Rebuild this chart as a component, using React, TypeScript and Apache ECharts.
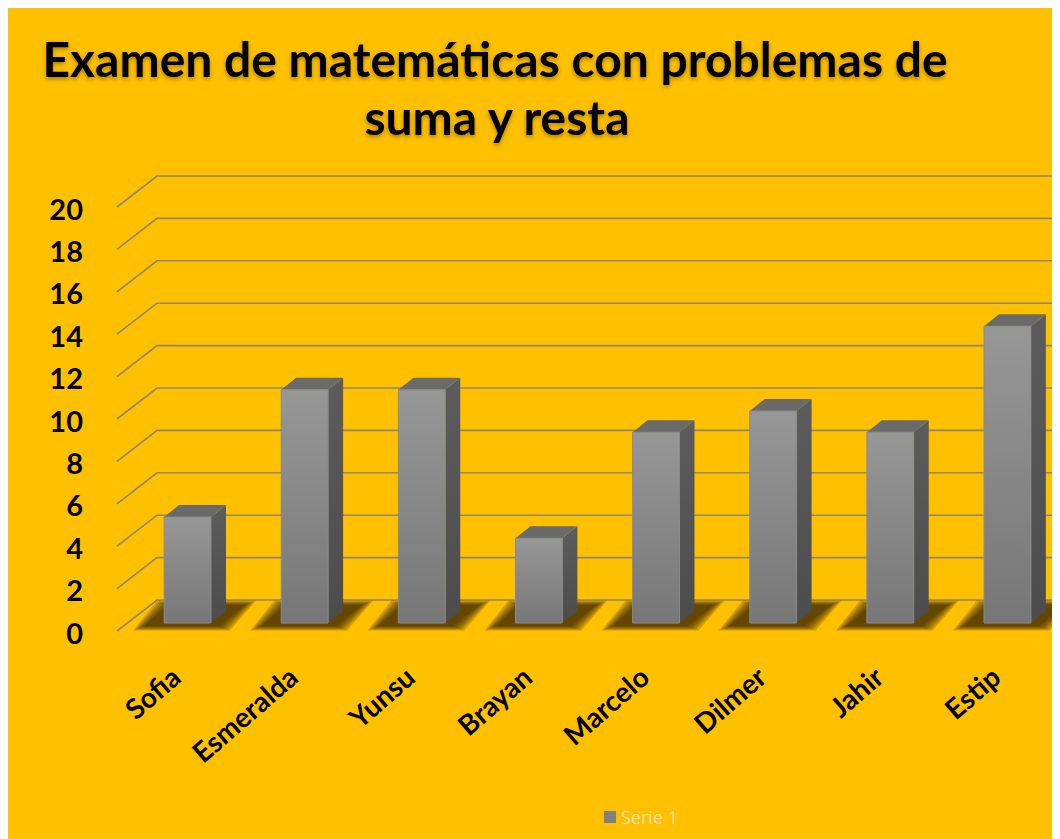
import React, { useEffect, useRef } from "react";
import * as echarts from "echarts";

const titleLines = ["Examen de matemáticas con problemas de", "suma y resta"];
const students = ["Sofia", "Esmeralda", "Yunsu", "Brayan", "Marcelo", "Dilmer", "Jahir", "Estip"];
const scores = [5, 11, 11, 4, 9, 10, 9, 14];
const yTicks = [0, 2, 4, 6, 8, 10, 12, 14, 16, 18, 20];
const seriesName = "Serie 1";

const BAR_DX = 12;
const BAR_DY = -9;
const DEPTH_X = 15;
const DEPTH_Y = -12;
const WALL_X = 40;
const WALL_Y = -31;

function shadowLayers(x0: number, x1: number, yb: number) {
  const layers: any[] = [];
  const n = 6;
  for (let k = 0; k < n; k++) {
    const g = (n - 1 - k) * 2.2;
    const gv = (n - 1 - k) * 0.9;
    layers.push({
      type: "polygon",
      silent: true,
      shape: {
        points: [
          [x0 - 20 - g, yb + 3 + gv],
          [x1 + 8 + g, yb + 3 + gv],
          [x1 + 34 + g, yb - 18 - gv],
          [x0 + 4 - g, yb - 18 - gv],
        ],
      },
      style: { fill: "rgba(50,34,0,0.21)" },
    });
  }
  return layers;
}

export default function App() {
  const ref = useRef<HTMLDivElement>(null);
  useEffect(() => {
    if (!ref.current) return;
    const chart = echarts.init(ref.current, undefined, { renderer: "svg" });
    const titleStyle = {
      textAlign: "center",
      textVerticalAlign: "middle",
      font: "bold 48px Lato",
      fill: "#000",
      textShadowColor: "rgba(0,0,0,0.35)",
      textShadowBlur: 4,
      textShadowOffsetY: 2,
    };
    const option: any = {
      animation: false,
      backgroundColor: "#FFC000",
      graphic: [
        { type: "text", x: 487, y: 52, style: { ...titleStyle, text: titleLines[0] } },
        { type: "text", x: 489, y: 110, style: { ...titleStyle, text: titleLines[1] } },
      ],
      legend: {
        data: [seriesName],
        left: 591,
        top: 797,
        icon: "rect",
        itemWidth: 12,
        itemHeight: 12,
        itemGap: 7,
        textStyle: { color: "#f2dfa0", fontSize: 18, fontFamily: "Open Sans" },
      },
      grid: { left: 109, right: 6, top: 202, bottom: 207 },
      xAxis: {
        type: "category",
        data: students,
        axisLine: { show: false },
        axisTick: { show: false },
        axisLabel: {
          interval: 0,
          rotate: 41,
          margin: 40,
          fontFamily: "Lato",
          fontWeight: "bold",
          fontSize: 28,
          color: "#000",
        },
        splitLine: { show: false },
      },
      yAxis: {
        type: "value",
        min: 0,
        max: 20,
        interval: 2,
        axisLine: { show: false },
        axisTick: { show: false },
        splitLine: { show: false },
        axisLabel: {
          margin: 34,
          fontFamily: "Lato",
          fontWeight: "bold",
          fontSize: 29,
          color: "#000",
        },
      },
      series: [
        {
          type: "custom",
          name: "grid",
          silent: true,
          z: 1,
          data: yTicks.map((v) => [0, v]),
          encode: { x: 0, y: 1 },
          renderItem: (params: any, api: any) => {
            const p = api.coord([0, api.value(1)]);
            const xl = params.coordSys.x;
            const y = p[1] - 1;
            return {
              type: "polyline",
              shape: {
                points: [
                  [xl, y],
                  [xl + WALL_X, y + WALL_Y],
                  [api.getWidth(), y + WALL_Y],
                ],
              },
              style: { stroke: "#8e8670", lineWidth: 1.6, fill: "none" },
            };
          },
        },
        {
          type: "custom",
          name: seriesName,
          z: 2,
          itemStyle: { color: "#808080" },
          data: scores.map((v, i) => [i, v]),
          encode: { x: 0, y: 1 },
          renderItem: (params: any, api: any) => {
            const top = api.coord([api.value(0), api.value(1)]);
            const base = api.coord([api.value(0), 0]);
            const band = api.size([1, 0])[0];
            const w = band * 0.4;
            const cx = top[0] + BAR_DX;
            const x0 = cx - w / 2;
            const x1 = cx + w / 2;
            const yt = top[1] + BAR_DY;
            const yb = base[1] + BAR_DY;
            return {
              type: "group",
              children: [
                ...shadowLayers(x0, x1, yb),
                {
                  type: "polygon",
                  shape: {
                    points: [
                      [x1, yb],
                      [x1, yt],
                      [x1 + DEPTH_X, yt + DEPTH_Y],
                      [x1 + DEPTH_X, yb + DEPTH_Y],
                    ],
                  },
                  style: {
                    fill: new echarts.graphic.LinearGradient(0, 0, 0, 1, [
                      { offset: 0, color: "#5c5c5c" },
                      { offset: 1, color: "#4c4c4c" },
                    ]),
                  },
                },
                {
                  type: "polygon",
                  shape: {
                    points: [
                      [x0, yt],
                      [x1, yt],
                      [x1 + DEPTH_X, yt + DEPTH_Y],
                      [x0 + DEPTH_X, yt + DEPTH_Y],
                    ],
                  },
                  style: { fill: "#6a6a6a" },
                },
                {
                  type: "rect",
                  shape: { x: x0, y: yt, width: w, height: yb - yt },
                  style: {
                    fill: new echarts.graphic.LinearGradient(0, 0, 0, 1, [
                      { offset: 0, color: "#979797" },
                      { offset: 1, color: "#777777" },
                    ]),
                    stroke: "#8a8a8a",
                    lineWidth: 1,
                  },
                },
              ],
            };
          },
        },
      ],
    };
    chart.setOption(option);
    return () => chart.dispose();
  }, []);
  return <div ref={ref} style={{ width: 1052, height: 833, marginTop: -2 }} />;
}
